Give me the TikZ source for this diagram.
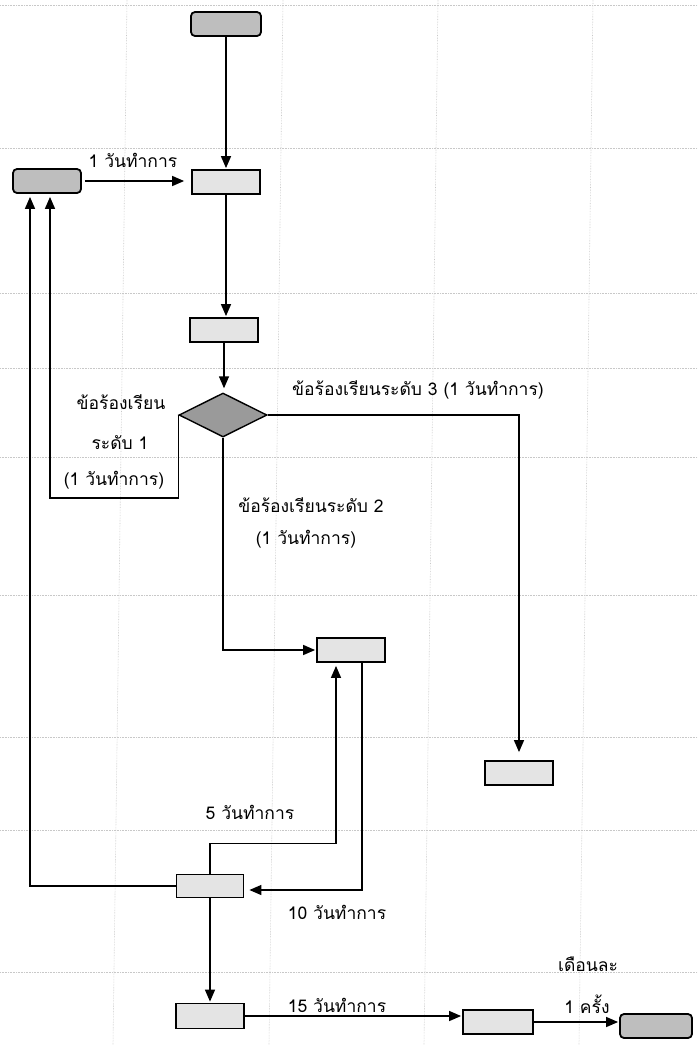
\documentclass[tikz,border=0pt]{standalone}
\usepackage{fontspec}
\newfontfamily\thaifont[Script=Thai]{Loma}
\usetikzlibrary{arrows.meta,shapes.geometric}
\definecolor{lightfill}{HTML}{E4E4E4}
\definecolor{darkfill}{HTML}{BEBEBE}
\definecolor{diafill}{HTML}{9A9A9A}
\definecolor{gridc}{HTML}{C8C8C8}
\tikzset{
  procbox/.style={draw, line width=1.8pt, fill=lightfill, minimum width=68pt, minimum height=24pt, inner sep=0pt},
  termbox/.style={procbox, fill=darkfill, rounded corners=4pt},
  decis/.style={diamond, draw, line width=1.4pt, fill=diafill, minimum width=88pt, minimum height=44pt, inner sep=0pt},
  conn/.style={line width=1.4pt, -{Triangle[length=12pt,width=10pt]}},
  lbl/.style={font=\thaifont\fontsize{17.5}{20}\selectfont, inner sep=1pt},
  gridline/.style={gridc, line width=0.6pt, densely dotted}
}
\begin{document}
\begin{tikzpicture}[x=1pt,y=-1pt]
\useasboundingbox (0,0) rectangle (698,1045);
\fill[white] (0,0) rectangle (698,1045);
% background grid
\foreach \xt in {127,283,438,593}
  \draw[gridline] (\xt,0) -- (\xt-14,1045);
\foreach \yy in {5,148,293,368,457,595,737,830,972}
  \draw[gridline] (0,\yy) -- (698,\yy);
% nodes
\node[termbox, minimum width=70pt] (start) at (226,24) {};
\node[termbox] (A) at (47,181) {};
\node[procbox] (B) at (226,182) {};
\node[procbox] (C) at (224,330) {};
\node[decis] (dia) at (223,415) {};
\node[procbox] (D) at (351,650) {};
\node[procbox] (E) at (519,773) {};
\node[procbox, minimum width=67pt, minimum height=23pt] (F) at (210,886) {};
\node[procbox, minimum height=25pt] (G) at (210,1016) {};
\node[procbox, minimum width=70pt] (H) at (498,1022) {};
\node[termbox, minimum width=72pt] (End) at (656,1026) {};
% connectors
\draw[conn, shorten >=1pt] (start.south) -- (start.south |- B.north);
\draw[conn, shorten <=3pt, shorten >=7pt] (A.east) -- (A.east -| B.west);
\draw[conn, shorten >=1pt] (B.south) -- (B.south |- C.north);
\draw[conn, shorten >=4pt] (C.south) -- (C.south |- dia.north);
\draw[conn, shorten >=3pt] (dia.west) -- ++(0,83) -| ([xshift=3pt]A.south);
\draw[conn, shorten >=3pt] (F.west) -| ([xshift=-17pt]A.south);
\draw[conn, shorten >=8pt] (dia.east) -| (E.north);
\draw[conn, shorten >=1pt] (dia.south) |- (D.west);
\draw[conn, shorten >=5pt] ([xshift=11pt]D.south) |- ([yshift=-4pt]F.east);
\draw[conn, shorten >=3pt] (F.north) -- ++(0,-30) -| ([xshift=-15pt]D.south);
\draw[conn, shorten >=1pt] (F.south) -- (F.south |- G.north);
\draw[conn, shorten >=1pt] (G.east) -- (G.east -| H.west);
\draw[conn, shorten >=1pt] (H.east) -- (H.east -| End.west);
% labels
\node[lbl] (t1) at (133,160) {1 วันทำการ};
\node[lbl] (t2) at (121,402) {ข้อร้องเรียน};
\node[lbl] (t3) at (120,443) {ระดับ 1};
\node[lbl] (t4) at (114,480) {(1 วันทำการ)};
\node[lbl] (t5) at (418,390) {ข้อร้องเรียนระดับ 3 (1 วันทำการ)};
\node[lbl] (t6) at (311,505) {ข้อร้องเรียนระดับ 2};
\node[lbl] (t7) at (306,539) {(1 วันทำการ)};
\node[lbl] (t8) at (250,812) {5 วันทำการ};
\node[lbl] (t9) at (337,912) {10 วันทำการ};
\node[lbl] (t10) at (337,1005) {15 วันทำการ};
\node[lbl] (t11) at (588,964) {เดือนละ};
\node[lbl] (t12) at (587,1004) {1 ครั้ง};
\end{tikzpicture}
\end{document}
